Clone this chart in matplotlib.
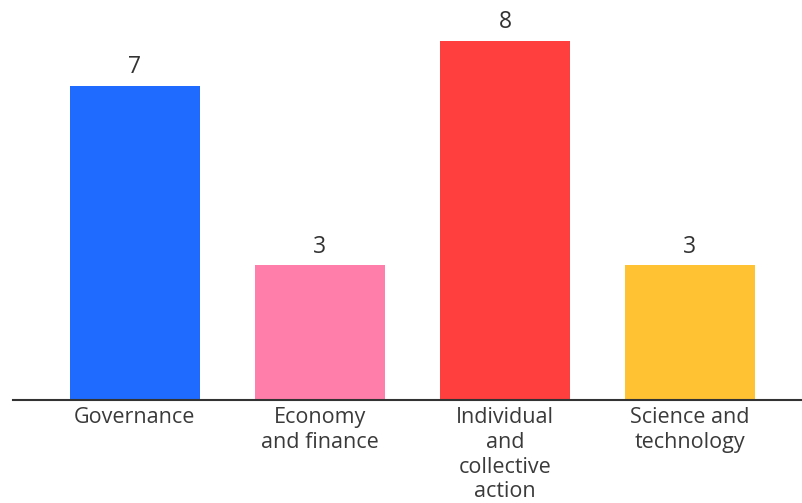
import matplotlib
matplotlib.use("Agg")
import matplotlib.pyplot as plt

categories = ["Governance", "Economy\nand finance", "Individual\nand\ncollective\naction", "Science and\ntechnology"]
values = [7, 3, 8, 3]
colors = ["#1F6BFF", "#FF7EAA", "#FF3E3E", "#FFC233"]

plt.rcParams['font.family'] = ['Open Sans', 'DejaVu Sans']
fig = plt.figure(figsize=(8.03, 5.03), dpi=100)
ax = fig.add_axes([13/803, 1 - 400/503, 790/803, 400/503])
x = list(range(len(categories)))
bars = ax.bar(x, values, width=0.703, color=colors)
for xi, v in zip(x, values):
    ax.text(xi, v + 0.15, str(v), ha='center', va='bottom', fontsize=16.5, color='#333333')
ax.set_xlim(-0.659, 3.611)
ax.set_ylim(0, 400/44.9)
ax.set_xticks(x)
ax.set_xticklabels(categories, fontsize=15.5, color='#3a3a3a', linespacing=1.24, va='top')
ax.tick_params(axis='x', length=0, pad=5)
ax.set_yticks([])
for s in ['top', 'right', 'left']:
    ax.spines[s].set_visible(False)
ax.spines['bottom'].set_color('#333333')
ax.spines['bottom'].set_linewidth(1.5)
fig.savefig("out.png", dpi=100)
